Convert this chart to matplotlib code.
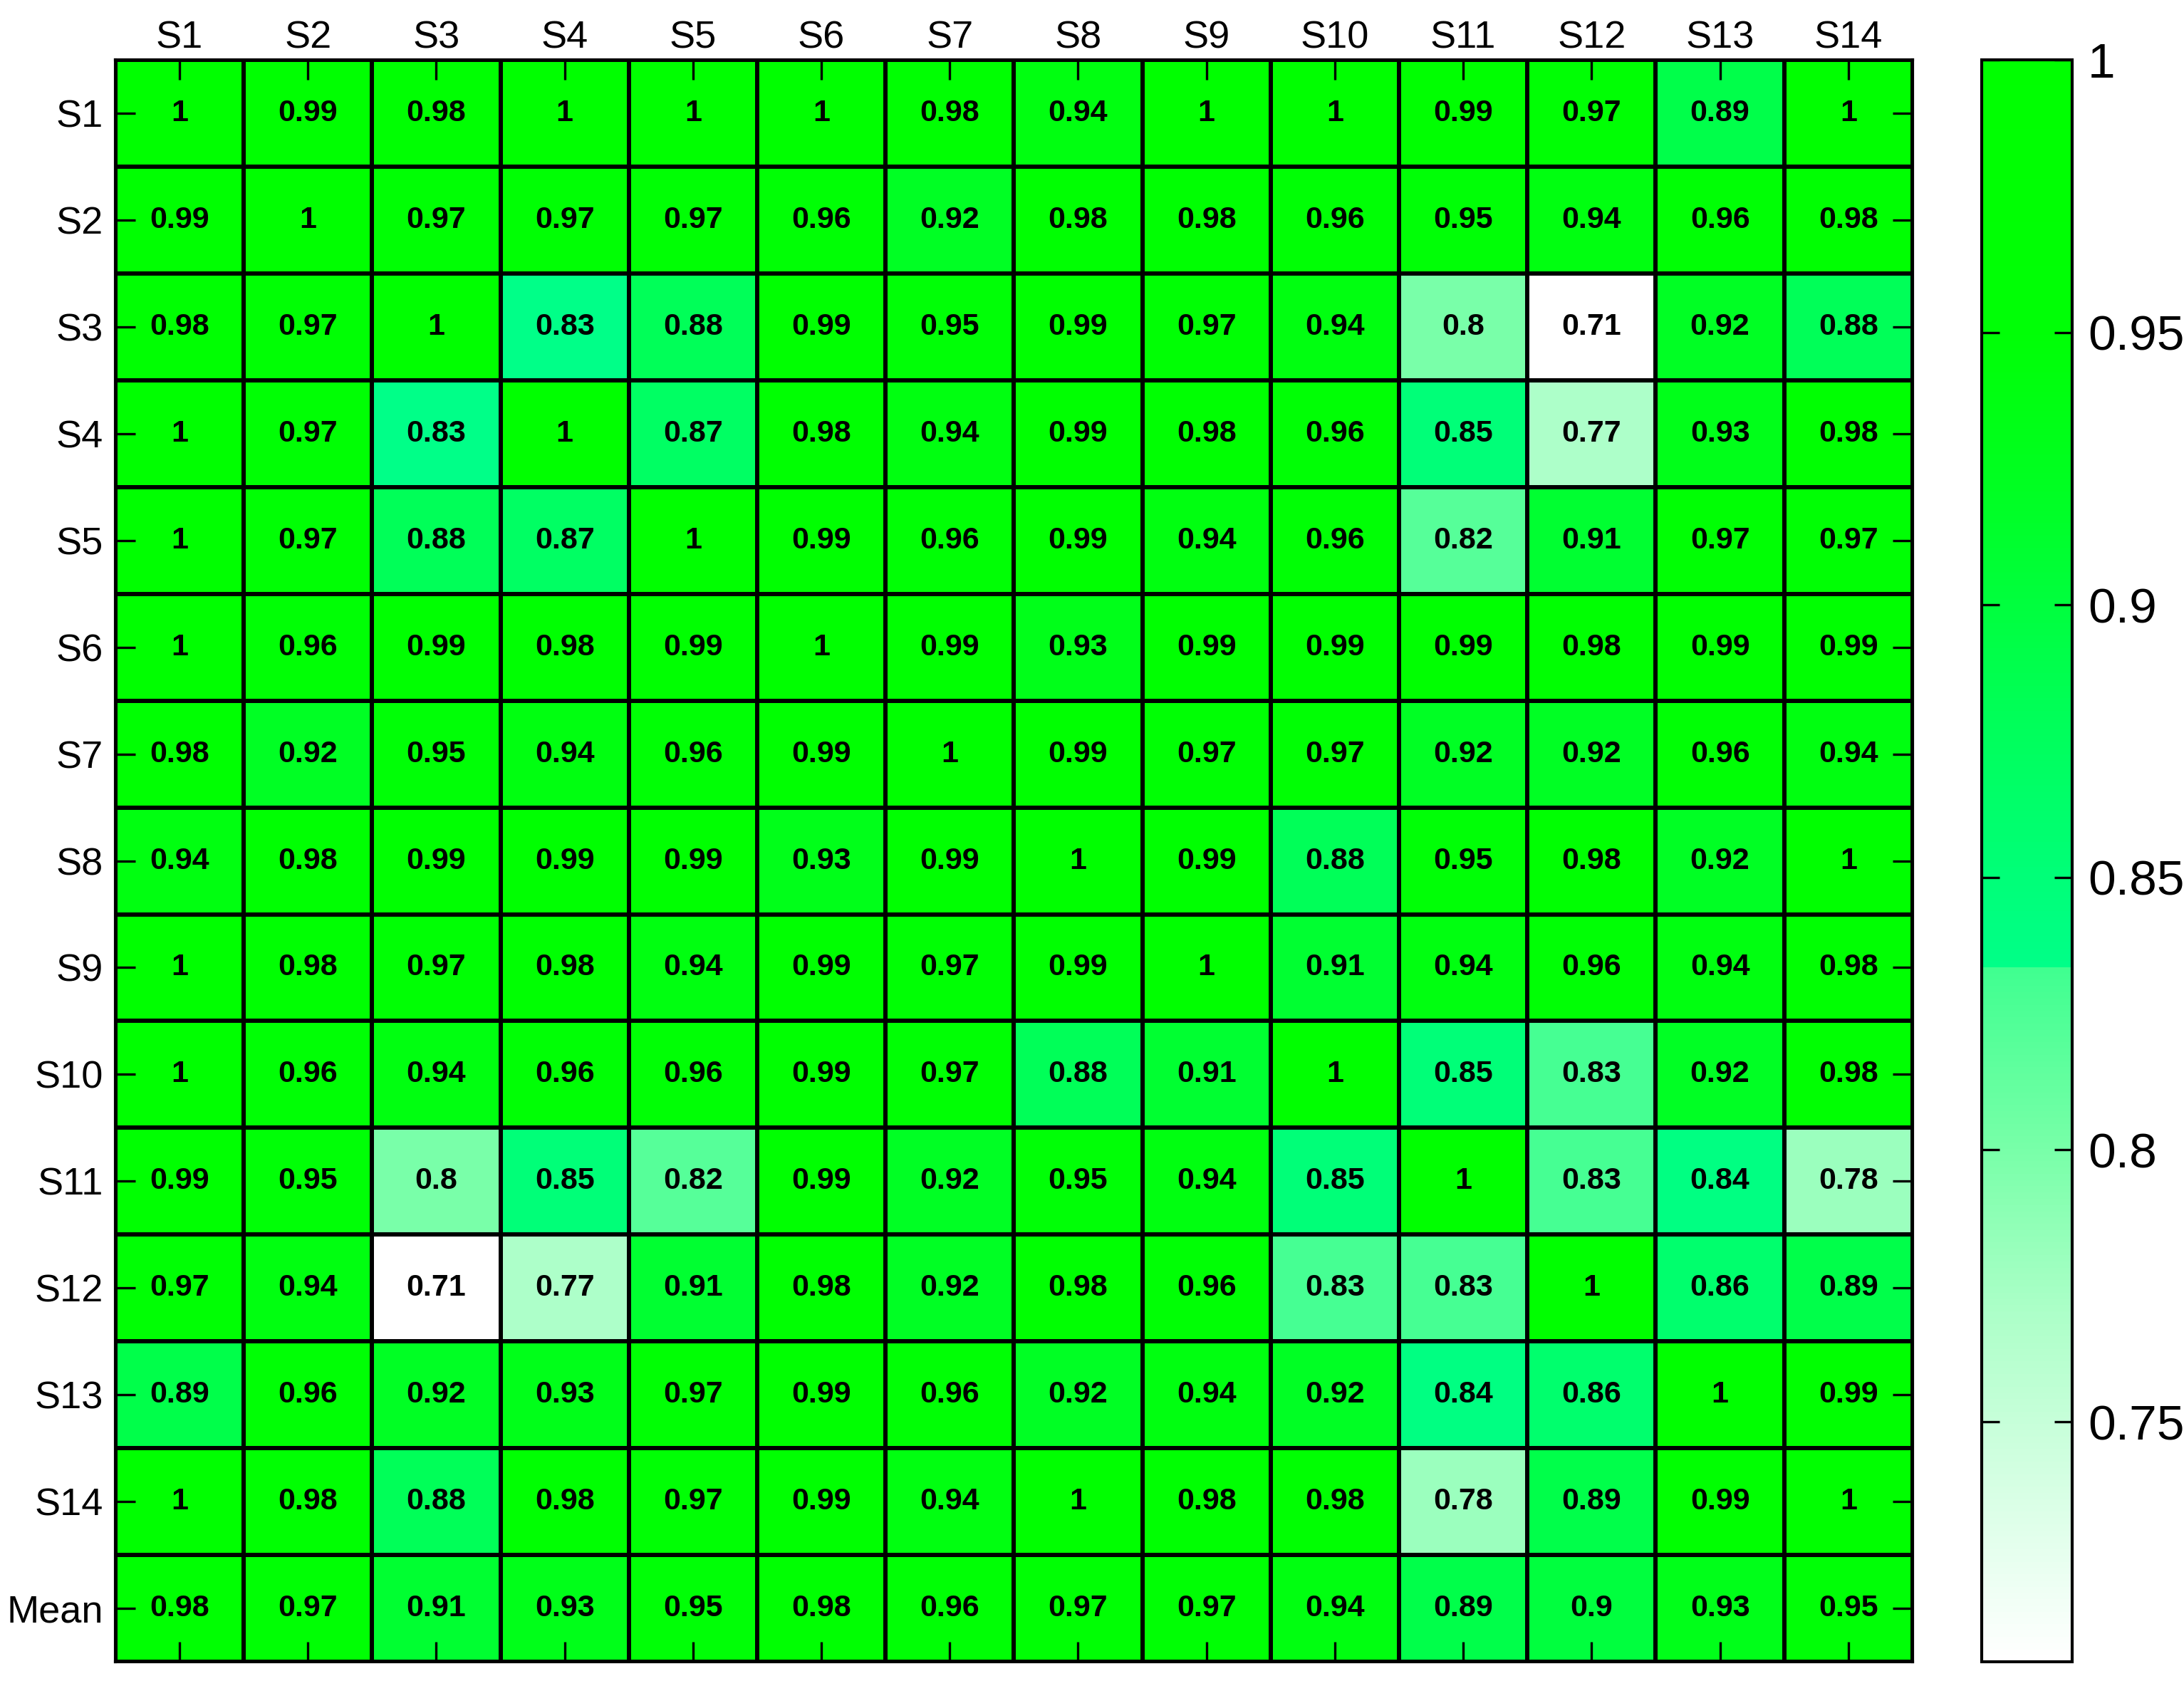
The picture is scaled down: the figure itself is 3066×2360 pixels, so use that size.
import numpy as np
import matplotlib
matplotlib.use('Agg')
import matplotlib.pyplot as plt
from matplotlib.colors import LinearSegmentedColormap, Normalize

plt.rcParams['font.family'] = ['Liberation Sans', 'DejaVu Sans']

col_labels = ['S1', 'S2', 'S3', 'S4', 'S5', 'S6', 'S7', 'S8', 'S9', 'S10', 'S11', 'S12', 'S13', 'S14']
row_labels = col_labels + ['Mean']

s1 = [1, 0.99, 0.98, 1, 1, 1, 0.98, 0.94, 1, 1, 0.99, 0.97, 0.89, 1]
s2 = [0.99, 1, 0.97, 0.97, 0.97, 0.96, 0.92, 0.98, 0.98, 0.96, 0.95, 0.94, 0.96, 0.98]
s3 = [0.98, 0.97, 1, 0.834, 0.88, 0.99, 0.95, 0.99, 0.97, 0.94, 0.80, 0.706, 0.92, 0.88]
s4 = [1, 0.97, 0.834, 1, 0.87, 0.98, 0.94, 0.99, 0.98, 0.96, 0.85, 0.77, 0.93, 0.98]
s5 = [1, 0.97, 0.88, 0.87, 1, 0.99, 0.96, 0.99, 0.94, 0.96, 0.82, 0.91, 0.97, 0.97]
s6 = [1, 0.96, 0.99, 0.98, 0.99, 1, 0.99, 0.93, 0.99, 0.99, 0.99, 0.98, 0.99, 0.99]
s7 = [0.98, 0.92, 0.95, 0.94, 0.96, 0.99, 1, 0.99, 0.97, 0.97, 0.92, 0.92, 0.96, 0.94]
s8 = [0.94, 0.98, 0.99, 0.99, 0.99, 0.93, 0.99, 1, 0.99, 0.88, 0.95, 0.98, 0.92, 1]
s9 = [1, 0.98, 0.97, 0.98, 0.94, 0.99, 0.97, 0.99, 1, 0.91, 0.94, 0.96, 0.94, 0.98]
s10 = [1, 0.96, 0.94, 0.96, 0.96, 0.99, 0.97, 0.88, 0.91, 1, 0.85, 0.83, 0.92, 0.98]
s11 = [0.99, 0.95, 0.80, 0.85, 0.82, 0.99, 0.92, 0.95, 0.94, 0.85, 1, 0.83, 0.84, 0.78]
s12 = [0.97, 0.94, 0.706, 0.77, 0.91, 0.98, 0.92, 0.98, 0.96, 0.83, 0.83, 1, 0.86, 0.89]
s13 = [0.89, 0.96, 0.92, 0.93, 0.97, 0.99, 0.96, 0.92, 0.94, 0.92, 0.84, 0.86, 1, 0.99]
s14 = [1, 0.98, 0.88, 0.98, 0.97, 0.99, 0.94, 1, 0.98, 0.98, 0.78, 0.89, 0.99, 1]
mean = [0.98, 0.97, 0.91, 0.93, 0.95, 0.98, 0.96, 0.97, 0.97, 0.94, 0.89, 0.90, 0.93, 0.95]

data = np.array([s1, s2, s3, s4, s5, s6, s7, s8, s9, s10, s11, s12, s13, s14, mean])
vmin, vmax = data.min(), 1.0

# white -> pale green, then a jump to spring green -> pure green
def t(v):
    return (v - vmin) / (vmax - vmin)

cmap = LinearSegmentedColormap.from_list('greens', [
    (0.0, '#ffffff'),
    (t(0.77), '#acffc8'),
    (t(0.80), '#78ffa8'),
    (t(0.833), '#40ff90'),
    (t(0.8335), '#00ff88'),
    (t(0.85), '#00ff78'),
    (t(0.88), '#00ff58'),
    (t(0.92), '#00ff24'),
    (t(0.95), '#00ff06'),
    (1.0, '#00ff00'),
])
norm = Normalize(vmin=vmin, vmax=vmax)

fig = plt.figure(figsize=(15.33, 11.8), dpi=200)
ax = fig.add_axes([0.0528, 0.0114, 0.8229, 0.953])
cax = fig.add_axes([0.9074, 0.0114, 0.0414, 0.953])

nr, nc = data.shape
mesh = ax.pcolormesh(np.arange(nc + 1), np.arange(nr + 1), data, cmap=cmap, norm=norm,
                     edgecolors='k', linewidth=1.5)
ax.set_xlim(0, nc)
ax.set_ylim(nr, 0)

for i in range(nr):
    for j in range(nc):
        ax.text(j + 0.5, i + 0.5, f"{round(data[i, j], 2):g}", ha='center', va='center',
                fontsize=15.5, fontweight='bold', color='k')

ax.set_xticks(np.arange(nc) + 0.5)
ax.set_xticklabels(col_labels, fontsize=19.5)
ax.set_yticks(np.arange(nr) + 0.5)
ax.set_yticklabels(row_labels, fontsize=19.5)
ax.tick_params(direction='in', length=10, width=1.2, top=True, bottom=True, left=True, right=True,
               labeltop=True, labelbottom=False)
ax.tick_params(axis='x', pad=2)
ax.tick_params(axis='y', pad=6)
for sp in ax.spines.values():
    sp.set_linewidth(1.5)

cb = fig.colorbar(mesh, cax=cax)
cb.set_ticks([0.75, 0.8, 0.85, 0.9, 0.95, 1.0])
cb.set_ticklabels(['0.75', '0.8', '0.85', '0.9', '0.95', '1'])
cax.tick_params(direction='in', length=9, width=1.2, left=True, right=True, labelsize=25, pad=8)
cb.outline.set_linewidth(1.5)

fig.savefig('out.png', dpi=200)
